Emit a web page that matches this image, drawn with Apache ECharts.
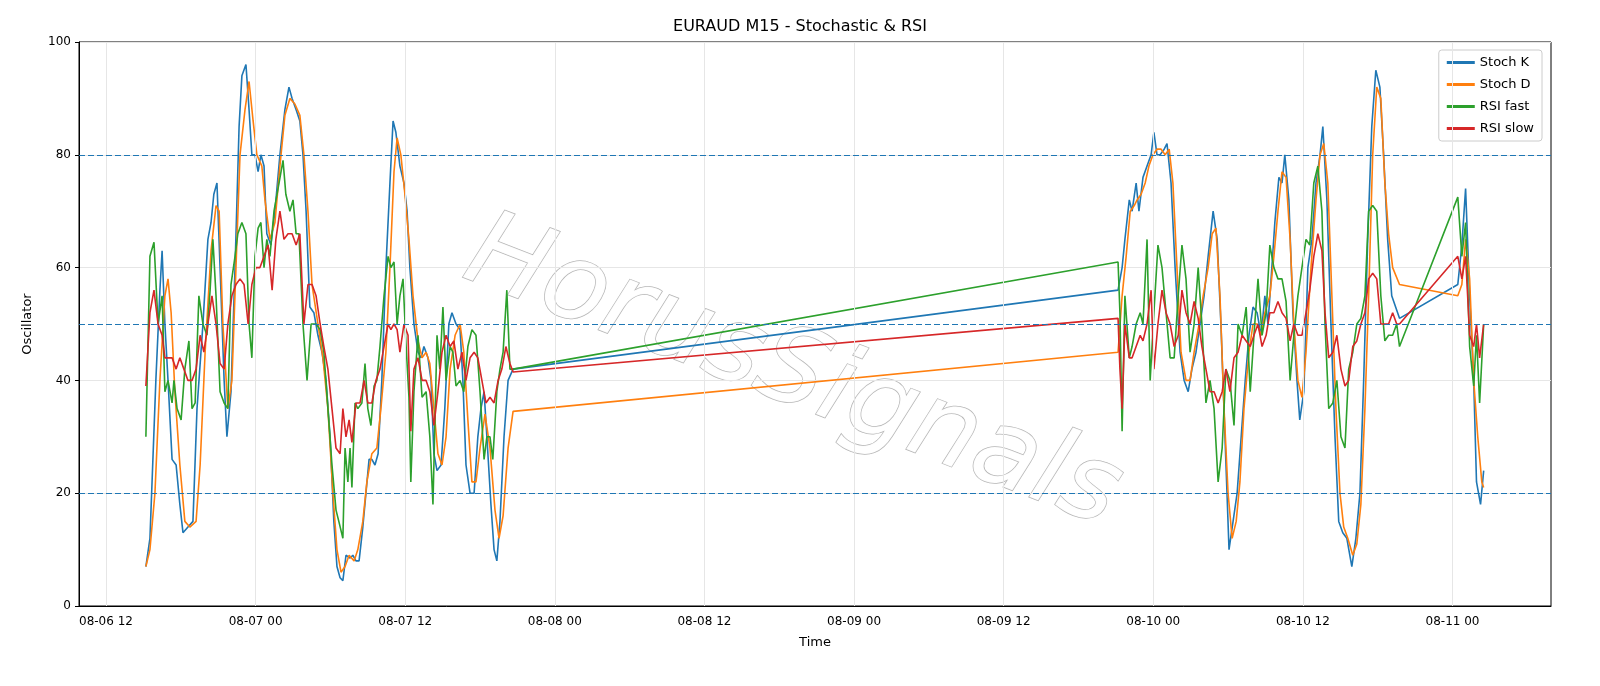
<!DOCTYPE html>
<html><head><meta charset="utf-8">
<script src="https://cdn.jsdelivr.net/npm/echarts@6/dist/echarts.min.js"></script>
<style>html,body{margin:0;padding:0;background:#fff}#c{width:1600px;height:686px}</style>
</head><body><div id="c"></div>
<script>
// time = 15-min bar index since 2024-08-06 12:00
const stochK=[[12.8,7],[14.1,12],[16.0,40],[17.3,56],[18.0,63],[18.9,50],[19.9,40],[21.2,26],[22.5,25],[23.7,18],[24.7,13],[26.3,14],[27.9,15],[29.2,35],[31.1,50],[32.7,65],[33.7,68],[34.6,73],[35.6,75],[36.6,60],[37.9,40],[38.8,30],[40.1,38],[41.4,60],[42.7,85],[43.6,94],[44.9,96],[45.9,88],[46.8,80],[47.8,80],[48.8,77],[49.7,80],[50.7,78],[51.6,66],[52.9,64],[54.2,70],[55.8,80],[57.4,88],[58.7,92],[59.7,90],[61.0,88],[62.2,86],[63.2,80],[64.2,70],[65.4,53],[66.7,52],[68.0,48],[69.3,45],[70.6,40],[71.9,30],[73.1,15],[74.1,7],[75.1,5],[76.0,4.5],[77.0,9],[78.3,8.5],[79.2,9],[80.2,8],[81.2,8],[82.4,14],[83.4,20],[84.4,26],[85.3,26],[86.3,25],[87.3,27],[88.5,40],[89.8,60],[91.1,75],[92.1,86],[93.0,84],[94.3,78],[95.6,75],[96.6,70],[97.5,60],[98.8,50],[100.1,45],[101.1,44],[102.0,46],[103.3,44],[104.3,40],[105.2,27],[106.2,24],[107.5,25],[108.7,35],[110.0,50],[111.0,52],[112.3,50],[113.6,49],[114.5,40],[115.5,25],[116.8,20],[118.1,20],[119.3,30],[120.3,35],[121.3,38],[122.2,30],[123.5,18],[124.5,10],[125.4,8],[126.4,15],[127.7,30],[129.0,40],[130.6,42],
[324.7,56],[326.0,60],[326.9,65],[328.3,72],[329.2,70],[330.5,75],[331.4,70],[332.7,76],[334.0,78],[335.3,80],[336.2,84],[337.2,80],[338.2,80],[339.5,81],[340.4,82],[341.7,75],[343.0,60],[344.6,45],[345.9,40],[347.2,38],[348.4,42],[349.7,45],[351.0,50],[352.3,55],[353.6,62],[355.2,70],[356.5,65],[357.7,50],[359.0,30],[360.3,10],[361.6,15],[362.9,20],[364.2,30],[365.5,40],[366.7,48],[368.0,53],[369.3,52],[370.6,48],[371.8,55],[372.8,50],[373.8,58],[375.0,68],[376.3,76],[377.3,75],[378.2,80],[379.5,72],[380.8,52],[382.1,40],[383.0,33],[384.3,38],[385.6,60],[386.9,65],[388.2,75],[389.5,80],[390.4,85],[391.7,72],[393.0,50],[394.3,30],[395.5,15],[396.8,13],[398.1,12],[399.7,7],[401.0,12],[402.3,20],[403.5,40],[404.8,65],[406.1,85],[407.4,95],[408.7,92],[409.9,80],[411.2,65],[412.5,55],[415.0,51],[433.7,57],[435.0,64],[436.2,74],[437.5,55],[438.8,40],[439.7,22],[441.0,18],[442.0,24]];
const stochD=[[12.8,7],[14.1,10],[15.7,20],[17.3,40],[18.9,55],[19.9,58],[20.9,52],[22.1,38],[23.7,25],[25.3,15],[26.9,14],[28.9,15],[30.2,25],[31.8,45],[33.7,63],[35.3,71],[36.3,70],[37.5,50],[39.1,35],[40.4,40],[41.7,60],[43.0,80],[44.6,88],[45.9,93],[47.2,86],[48.4,80],[50.0,78],[51.0,72],[52.6,65],[54.2,68],[55.8,78],[57.4,87],[59.0,90],[60.6,89],[62.2,87],[63.5,80],[64.8,70],[66.1,57],[68.0,50],[69.6,44],[71.2,35],[72.8,20],[74.1,10],[75.4,6],[76.7,7],[78.0,9],[79.6,8],[80.8,10],[82.4,15],[83.7,22],[85.3,27],[86.9,28],[88.2,35],[89.8,45],[91.1,60],[92.4,77],[93.4,83],[94.6,80],[95.9,73],[97.2,65],[98.5,55],[100.1,47],[101.4,44],[102.7,45],[103.9,43],[105.2,35],[106.5,27],[107.8,25],[109.1,30],[110.4,42],[112.0,48],[113.6,50],[114.8,45],[116.1,33],[117.4,22],[118.7,22],[120.0,28],[121.6,34],[123.2,28],[124.8,17],[126.1,12],[127.4,16],[129.0,28],[130.6,34.5],
[324.7,45],[326.0,55],[327.3,62],[328.6,70],[329.9,71],[330.8,72],[332.1,73],[333.4,75],[334.6,78],[335.9,80],[337.2,81],[338.5,81],[339.8,80],[341.1,81],[342.3,75],[343.6,60],[344.9,45],[346.5,40],[347.8,40],[349.1,45],[350.7,50],[352.0,55],[353.6,60],[354.9,66],[356.1,67],[357.4,55],[358.7,35],[360.0,20],[361.3,12],[362.6,15],[363.8,22],[365.1,35],[366.7,45],[368.0,50],[369.3,50],[370.6,48],[371.8,52],[373.4,55],[374.7,62],[376.0,70],[377.3,77],[378.6,76],[379.9,65],[381.1,50],[382.4,40],[383.7,37],[385.0,45],[386.6,60],[388.2,72],[389.5,80],[390.7,82],[392.0,75],[393.3,55],[394.6,35],[395.9,20],[397.1,14],[398.4,12],[400.0,9],[401.3,11],[402.6,18],[403.9,35],[405.1,55],[406.4,80],[407.7,92],[409.0,90],[410.3,75],[411.5,66],[412.8,60],[415.0,57],[433.7,55],[435.0,57],[436.2,65],[437.5,58],[438.8,40],[440.1,30],[441.4,22],[442.0,21]];
const rsiFast=[[12.8,30],[14.1,62],[15.4,64.5],[16.7,50],[18.0,55],[18.9,38],[19.9,40],[21.2,36],[21.8,40],[22.8,35],[24.1,33],[25.3,42],[26.6,47],[27.6,35],[28.6,36],[29.8,55],[31.1,50],[32.4,48],[33.4,56],[34.3,65],[35.3,55],[36.6,38],[37.9,36],[39.1,35],[40.1,57],[41.4,62],[42.3,66],[43.6,68],[44.9,66],[45.9,50],[46.8,44],[47.8,62],[48.8,67],[49.7,68],[50.7,60],[51.6,65],[52.6,62],[53.9,70],[55.2,74],[56.8,79],[57.7,73],[59.0,70],[60.0,72],[61.0,66],[61.9,66],[63.2,50],[64.5,40],[65.8,50],[67.4,50],[68.7,49],[69.9,45],[71.2,35],[72.5,25],[73.8,17],[74.7,15],[76.0,12],[76.7,28],[77.6,22],[78.3,28],[78.9,21],[79.9,36],[80.8,35],[82.1,36],[83.1,43],[84.0,35],[85.0,32],[86.0,39],[86.9,40],[87.9,46],[89.2,55],[90.5,62],[91.4,60],[92.4,61],[93.4,50],[94.3,55],[95.3,58],[96.2,47],[97.2,37],[97.8,22],[98.8,38],[100.1,48],[101.4,37],[102.7,38],[103.9,30],[104.9,18],[106.2,48],[107.1,42],[108.1,53],[109.1,40],[110.4,46],[111.3,45],[112.3,39],[113.6,40],[114.8,38],[116.1,46],[117.4,49],[118.7,48],[120.0,38],[121.3,26],[122.2,30],[123.2,30],[124.1,26],[125.4,38],[126.4,42],[127.4,45],[128.6,56],[129.6,42],[130.6,42],
[324.7,61],[325.3,52],[326.0,31],[326.9,55],[328.3,44],[329.2,46],[330.5,50],[331.8,52],[332.7,50],[334.0,65],[335.0,40],[336.2,52],[337.5,64],[338.8,60],[340.1,52],[341.4,44],[342.7,44],[344.0,55],[345.2,64],[346.5,58],[347.8,45],[349.1,50],[350.4,60],[351.6,50],[352.9,36],[354.2,40],[355.5,35],[356.8,22],[358.1,28],[359.3,42],[360.6,40],[361.9,32],[363.2,50],[364.5,48],[365.8,53],[367.1,38],[368.3,48],[369.6,58],[370.9,48],[372.2,52],[373.4,64],[374.7,60],[376.0,58],[377.3,58],[378.6,54],[379.9,40],[381.1,48],[382.4,55],[383.7,60],[385.0,65],[386.2,64],[387.5,75],[388.8,78],[390.1,70],[391.1,50],[392.3,35],[393.6,36],[394.9,40],[396.2,30],[397.5,28],[398.7,42],[400.0,45],[401.3,50],[402.6,51],[403.9,55],[405.1,70],[406.4,71],[407.7,70],[409.0,55],[410.3,47],[411.5,48],[412.8,48],[414.1,50],[415.0,46],[433.7,72.5],[435.0,62],[436.2,68],[437.5,46],[438.8,39],[439.7,48],[440.7,36],[442.0,50]];
const rsiSlow=[[12.8,39],[14.1,52],[15.4,56],[16.7,50],[18.0,48],[18.9,44],[19.9,44],[21.2,44],[22.5,42],[23.7,44],[25.0,42],[26.3,40],[27.6,40],[28.9,42],[30.2,48],[31.4,45],[32.7,50],[34.0,55],[35.3,50],[36.6,43],[37.9,42],[39.1,50],[40.4,55],[41.7,57],[43.0,58],[44.3,57],[45.6,50],[46.8,57],[48.1,60],[49.4,60],[50.7,62],[52.0,64],[53.3,56],[54.5,65],[55.8,70],[57.1,65],[58.4,66],[59.7,66],[61.0,64],[62.2,66],[63.5,50],[64.8,57],[66.1,57],[67.4,55],[68.7,50],[69.9,46],[71.2,42],[72.5,35],[73.8,28],[75.1,27],[76.0,35],[77.0,30],[78.0,33],[78.9,29],[80.2,36],[81.5,36],[82.8,40],[84.0,36],[85.3,36],[86.6,40],[87.9,42],[89.2,46],[90.5,50],[91.4,49],[92.4,50],[93.4,49],[94.3,45],[95.6,50],[96.9,48],[97.8,31],[98.8,42],[100.1,44],[101.4,40],[102.7,40],[103.9,38],[105.2,32],[106.5,38],[107.8,45],[109.1,48],[110.4,46],[111.6,47],[112.9,42],[114.2,45],[115.5,40],[116.8,44],[118.1,45],[119.3,44],[120.6,40],[121.9,36],[123.2,37],[124.5,36],[125.8,40],[127.0,42],[128.3,46],[129.6,43],[130.6,41.5],
[324.7,51],[325.3,42],[326.0,35],[326.9,50],[328.3,44],[329.2,44],[330.5,46],[331.8,48],[332.7,47],[334.0,50],[335.3,56],[336.2,42],[337.5,50],[338.8,56],[340.1,52],[341.4,50],[342.7,46],[344.0,48],[345.2,56],[346.5,52],[347.8,50],[349.1,54],[350.4,51],[351.6,46],[352.9,42],[354.2,38],[355.5,38],[356.8,36],[358.1,38],[359.3,42],[360.6,38],[361.9,44],[363.2,45],[364.5,48],[365.8,47],[367.1,46],[368.3,48],[369.6,50],[370.9,46],[372.2,48],[373.4,52],[374.7,52],[376.0,54],[377.3,52],[378.6,51],[379.9,47],[381.1,50],[382.4,48],[383.7,48],[385.0,52],[386.2,56],[387.5,62],[388.8,66],[390.1,63],[391.1,52],[392.3,44],[393.6,45],[394.9,48],[396.2,42],[397.5,39],[398.7,40],[400.0,46],[401.3,47],[402.6,50],[403.9,52],[405.1,58],[406.4,59],[407.7,58],[409.0,50],[410.3,50],[411.5,50],[412.8,52],[414.1,50],[415.0,50],[433.7,62],[435.0,58],[436.2,62],[437.5,48],[438.8,46],[439.7,50],[440.7,44],[442.0,50]];
const levels=[20,50,80];
const yTicks=[0,20,40,60,80,100];
const xTickHours=[0,12,24,36,48,60,72,84,96,108]; // hours after 2024-08-06 12:00

const H=3600e3;
const T0=Date.UTC(2024,7,6,12,0); // bar 0
const toTime=a=>a.map(p=>[T0+p[0]*H/4,p[1]]);
const pad=n=>String(n).padStart(2,'0');
const fmt=v=>{const d=new Date(v);return pad(d.getUTCMonth()+1)+'-'+pad(d.getUTCDate())+' '+pad(d.getUTCHours());};
const ch=echarts.init(document.getElementById('c'),null,{useUTC:true});
const mk=(name,data,color,extra)=>Object.assign({name,type:'line',data:toTime(data),showSymbol:false,symbol:'none',lineStyle:{width:1.6,color},itemStyle:{color},animation:false},extra||{});
ch.setOption({
 useUTC:true,
 animation:false,
 title:{text:'EURAUD M15 - Stochastic & RSI',left:'center',top:14,textStyle:{fontSize:16,fontWeight:'normal',color:'#000',fontFamily:'DejaVu Sans'}},
 grid:{left:79,right:49,top:42,bottom:80,show:true,borderColor:'#000',borderWidth:1,outerBoundsMode:'none',containLabel:false},
 legend:{orient:'vertical',right:58,top:50,itemWidth:28,itemHeight:3,itemGap:9,padding:[6,8,6,8],borderColor:'#ccc',borderWidth:1,borderRadius:3,backgroundColor:'rgba(255,255,255,0.8)',icon:'rect',textStyle:{fontSize:13,color:'#000',fontFamily:'DejaVu Sans'},data:['Stoch K','Stoch D','RSI fast','RSI slow']},
 xAxis:{type:'time',min:T0-2.165*H,max:T0+115.9*H,minInterval:6*H,maxInterval:6*H,name:'Time',nameLocation:'middle',nameGap:30,nameTextStyle:{fontSize:13,color:'#000',fontFamily:'DejaVu Sans'},
  axisLine:{show:true,onZero:false,lineStyle:{color:'#000'}},axisTick:{show:false},minorTick:{show:false},
  axisLabel:{showMinLabel:false,showMaxLabel:false,hideOverlap:false,fontSize:12,color:'#000',fontFamily:'DejaVu Sans',margin:10,formatter:v=>(new Date(v).getUTCHours()%12===0?fmt(v):'')},
  splitLine:{show:false}},
 yAxis:{type:'value',min:yTicks[0],max:yTicks[yTicks.length-1],interval:20,name:'Oscillator',nameLocation:'middle',nameGap:45,nameTextStyle:{fontSize:13,color:'#000',fontFamily:'DejaVu Sans'},
  axisLine:{show:true,lineStyle:{color:'#000'}},axisTick:{show:true,lineStyle:{color:'#000'},length:4},
  axisLabel:{fontSize:12,color:'#000',fontFamily:'DejaVu Sans'},splitLine:{show:true,lineStyle:{color:'#e6e6e6'}}},
 graphic:[{type:'text',left:450,top:200,rotation:-0.37,z:0,style:{text:'HorusSignals',font:'italic 106px "DejaVu Sans"',fill:'rgba(255,255,255,0.97)',stroke:'rgba(150,150,150,0.7)',lineWidth:1.5,shadowColor:'rgba(0,0,0,0.4)',shadowBlur:2,shadowOffsetX:5,shadowOffsetY:5}}],
 series:[
  {name:'grid12h',type:'line',data:[],silent:true,markLine:{silent:true,symbol:'none',label:{show:false},animation:false,lineStyle:{type:'solid',color:'#e6e6e6',width:1},data:xTickHours.map(h=>({xAxis:T0+h*H}))}},
  mk('Stoch K',stochK,'#1f77b4',{markLine:{silent:true,symbol:'none',label:{show:false},lineStyle:{type:[6,3],color:'#1f77b4',width:1.2},data:levels.map(v=>({yAxis:v}))}}),
  mk('Stoch D',stochD,'#ff7f0e'),
  mk('RSI fast',rsiFast,'#2ca02c'),
  mk('RSI slow',rsiSlow,'#d62728')
 ]
});
</script></body></html>
